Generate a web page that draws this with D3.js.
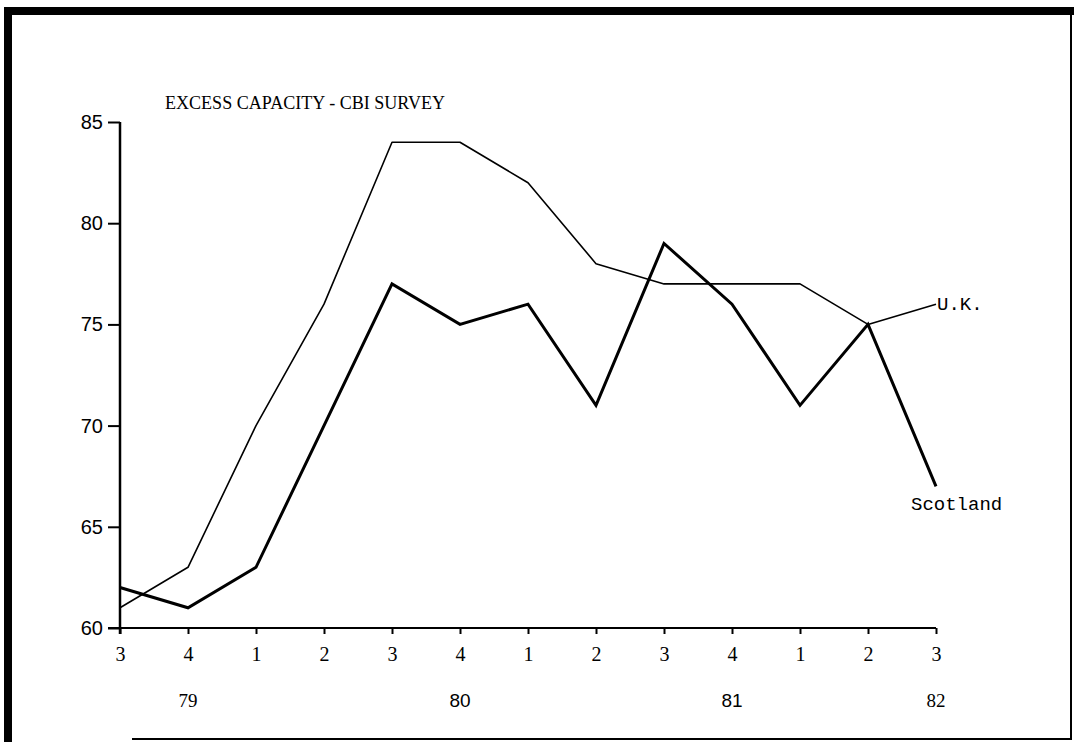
<!DOCTYPE html>
<html><head><meta charset="utf-8">
<script src="https://cdn.jsdelivr.net/npm/d3@7"></script>
<style>html,body{margin:0;padding:0;background:#fff;}svg{display:block;}</style>
</head><body>
<script>
const quarters = ["3","4","1","2","3","4","1","2","3","4","1","2","3"];
const ukValues = [61,63,70,76,84,84,82,78,77,77,77,75,76];
const scotlandValues = [62,61,63,70,77,75,76,71,79,76,71,75,67];
const yearLabels = [{label:"79", at:1},{label:"80", at:5},{label:"81", at:9},{label:"82", at:12}];
const yTicks = [60,65,70,75,80,85];
const title = "EXCESS CAPACITY - CBI SURVEY";

const W = 1074, H = 742;
const svg = d3.select("body").append("svg").attr("width", W).attr("height", H);

// frame
svg.append("path").attr("d","M8,742 L8,11 L1074,11").attr("fill","none").attr("stroke","#000").attr("stroke-width",8);
svg.append("path").attr("d","M1071,11 L1071,739 L132,739").attr("fill","none").attr("stroke","#000").attr("stroke-width",2);

const x = d3.scaleLinear().domain([0, quarters.length-1]).range([120, 936]);
const y = d3.scaleLinear().domain([60, 85]).range([628, 122]);

// y axis
const yAxis = svg.append("g").attr("transform","translate(120,0)")
  .call(d3.axisLeft(y).tickValues(yTicks).tickSize(12).tickPadding(5));
yAxis.select(".domain").attr("stroke-width",2.5).attr("d","M0,122 L0,634");
yAxis.selectAll(".tick line").attr("stroke-width",2);
yAxis.selectAll("text").attr("font-family","Liberation Sans, Arial, sans-serif").attr("font-size",20).attr("fill","#000");

// x axis
const xAxis = svg.append("g").attr("transform","translate(0,628)")
  .call(d3.axisBottom(x).tickValues(d3.range(quarters.length)).tickFormat(i=>quarters[i]).tickSize(6).tickPadding(13));
xAxis.select(".domain").attr("stroke-width",2).attr("d","M108,0 L936,0");
xAxis.selectAll(".tick line").attr("stroke-width",2);
xAxis.selectAll("text").attr("font-family","Liberation Serif, Times New Roman, serif").attr("font-size",20).attr("fill","#000");

// year labels
const yearFonts = {"79":"Liberation Serif, serif","80":"Liberation Sans, sans-serif","81":"Liberation Sans, sans-serif","82":"Liberation Serif, serif"};
svg.selectAll("text.year").data(yearLabels).enter().append("text")
  .attr("class","year").attr("x", d=>x(d.at)).attr("y", 707)
  .attr("text-anchor","middle").attr("font-family", d=>yearFonts[d.label]).attr("font-size",19)
  .text(d=>d.label);

// title
svg.append("text").attr("x",165).attr("y",109).attr("font-family","Liberation Serif, serif")
  .attr("font-size",19).attr("textLength",280).attr("lengthAdjust","spacingAndGlyphs").text(title);

const line = d3.line().x((d,i)=>x(i)).y(d=>y(d));
svg.append("path").datum(ukValues).attr("d",line).attr("fill","none").attr("stroke","#000")
  .attr("stroke-width",1.6).attr("stroke-linejoin","round");
svg.append("path").datum(scotlandValues).attr("d",line).attr("fill","none").attr("stroke","#000")
  .attr("stroke-width",3).attr("stroke-linejoin","miter");

// series labels
svg.append("text").attr("x",937).attr("y",y(ukValues[ukValues.length-1])+6)
  .attr("font-family","Liberation Mono, Courier New, monospace").attr("font-size",19).text("U.K.");
svg.append("text").attr("x",911).attr("y",510)
  .attr("font-family","Liberation Mono, Courier New, monospace").attr("font-size",19).text("Scotland");
</script>
</body></html>
